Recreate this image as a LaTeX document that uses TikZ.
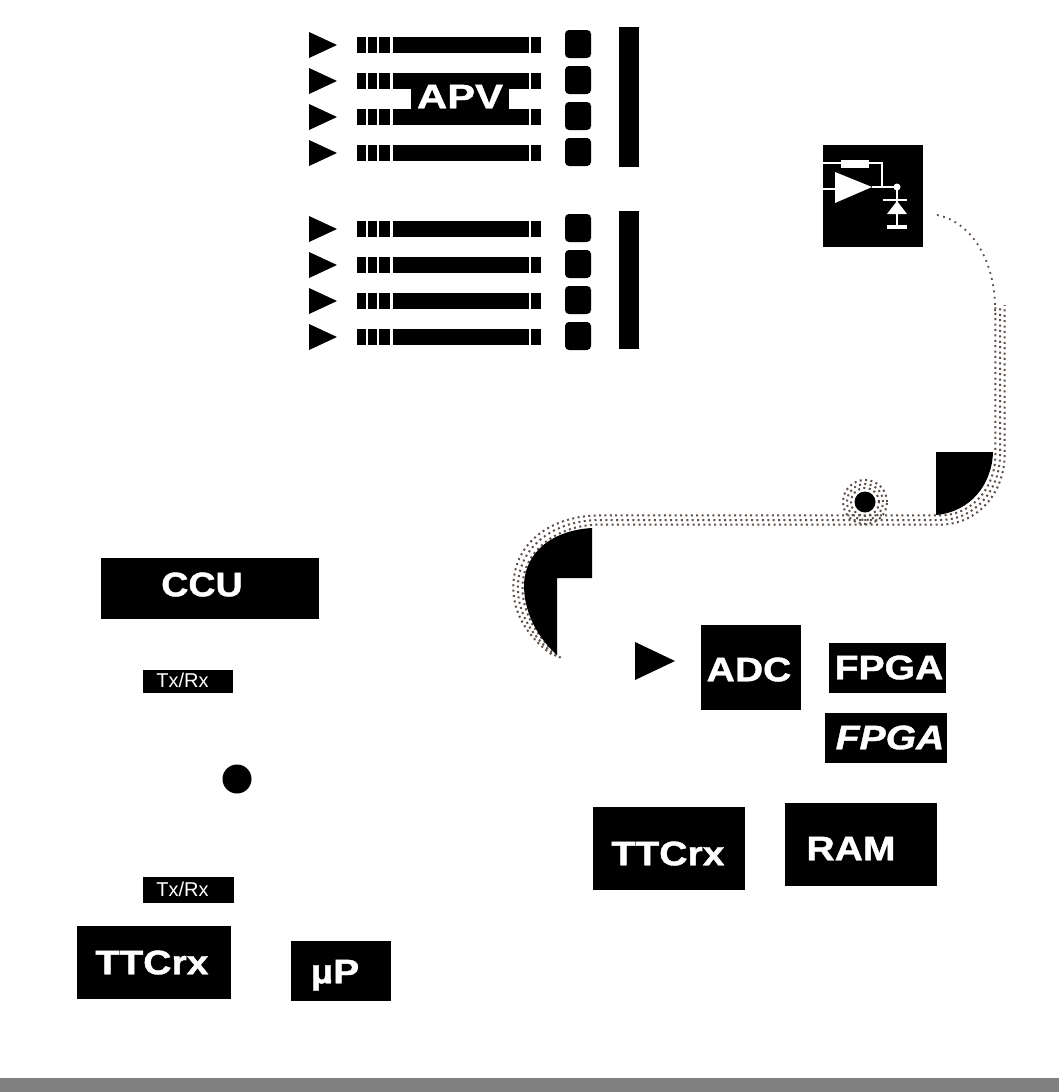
\documentclass[tikz,border=0pt]{standalone}
\usepackage{fontspec}
\setmainfont{Liberation Sans}[BoldFeatures={FakeBold=1.2},BoldItalicFeatures={FakeBold=1.2}]
\usetikzlibrary{positioning,shapes.geometric,calc}
\definecolor{cnegro}{HTML}{000000}
\definecolor{cfibra}{HTML}{5E4E4A}
\definecolor{cbarra}{HTML}{808080}
\tikzset{
  caja/.style={draw=none,fill=cnegro,inner sep=0pt,outer sep=0pt},
  etq/.style={text=white,inner sep=0pt,text height=24.5pt,text depth=0pt,
              font=\fontsize{34}{34}\selectfont\bfseries,xscale=1.15,transform shape},
  etqi/.style={etq,font=\fontsize{34}{34}\selectfont\bfseries\itshape},
  etqf/.style={text=white,inner sep=0pt,text height=14.5pt,text depth=0pt,
               font=\fontsize{20}{20}\selectfont},
  bola/.style={circle,fill=cnegro,inner sep=0pt,outer sep=0pt},
  fibra/.style={draw=cfibra,line width=2pt,dash pattern=on 2pt off 3.4pt},
  hilo/.style={draw=white,line width=1.6pt},
}
\begin{document}
\begin{tikzpicture}[x=1pt,y=-1pt]
\useasboundingbox (0,0) rectangle (1059,1092);

% ---------------- modulos APV ----------------
\foreach \ym in {0,184}{
  \foreach \yf [count=\n] in {45,81,117,153}{
    \fill[cnegro] (309,\yf+\ym-13) -- (337,\yf+\ym) -- (309,\yf+\ym+13) -- cycle;
    \foreach \xa/\xb in {357/366,368/377,379/390,393/529,531/541}
      \fill[cnegro] (\xa,\yf+\ym-8) rectangle (\xb,\yf+\ym+8);
    \fill[cnegro,rounded corners=4pt] (565,\yf+\ym-15) rectangle (591,\yf+\ym+13);
  }
}
\node[caja,minimum width=20pt,minimum height=140pt] (hib1) at (629,97) {};
\node[caja,minimum width=20pt,minimum height=138pt] (hib2) at (629,280) {};
\node[caja,minimum width=98pt,minimum height=52pt] (apv) at (460,99) {};
\node[etq,xscale=1.07] (apvt) at (460,96) {APV};

% ---------------- emisor laser ----------------
\node[caja,minimum width=100pt,minimum height=102pt] (laser) at (873,196) {};
\fill[white] (835,172) -- (872,187) -- (835,203) -- cycle;
\draw[hilo] (823,163) -- (882,163) -- (882,187);
\draw[hilo] (823,189) -- (835,189);
\fill[white] (841,160) rectangle (869,168);
\draw[hilo] (872,187) -- (897,187) -- (897,227);
\fill[white] (897,187) circle[radius=3.5pt];
\draw[hilo,line width=2.5pt] (883,200) -- (907,200);
\fill[white] (897,201) -- (907,214) -- (887,214) -- cycle;
\draw[hilo,line width=3.5pt] (887,227) -- (907,227);

% ---------------- fibra optica ----------------
\draw[fibra,line width=1.8pt,dash pattern=on 1.8pt off 4.5pt] (937,215) .. controls (972,222) and (996,262) .. (995,312);
\foreach \d in {-4.6,0,4.6}{
  \draw[fibra] ({556+\d},{656+\d*.4}) .. controls ({526+\d},{632}) and ({517+\d},{606}) .. ({518+\d},{585})
    .. controls ({519+\d},{546+\d}) and ({555+\d*.5},{520+\d}) .. (600,{520+\d}) -- (940,{520+\d})
    .. controls ({975+\d*.7},{520+\d}) and ({1000+\d},{490+\d*.4}) .. ({1000+\d},455) -- ({1000+\d},305);
}
\foreach \r in {14,18,22}
  \draw[fibra] (865,502) circle[radius=\r pt];
\node[bola,minimum size=21pt] (acople) at (865,502) {};
\fill[cnegro] (592,528) -- (592,578) -- (557,578) -- (557,655)
  .. controls (535,635) and (524,610) .. (524,585)
  .. controls (525,550) and (555,530) .. (592,528) -- cycle;
\fill[cnegro] (936,452) -- (993,452) .. controls (992,485) and (970,512) .. (936,515) -- cycle;

% ---------------- control ----------------
\node[caja,minimum width=218pt,minimum height=61pt] (ccu) at (210,588) {};
\node[etq,xscale=.96] (ccut) at (202,584) {CCU};
\node[caja,minimum width=90pt,minimum height=23pt] (txa) at (188,681) {};
\node[etqf] (txat) at (182.5,680) {Tx/Rx};
\node[bola,minimum size=29pt] (nodo) at (237,779) {};
\node[caja,minimum width=91pt,minimum height=26pt] (txb) at (188.5,890) {};
\node[etqf] (txbt) at (182.5,889) {Tx/Rx};
\node[caja,minimum width=154pt,minimum height=73pt] (ttca) at (154,962) {};
\node[etq] (ttcat) at (152,962) {TTCrx};
\node[caja,minimum width=100pt,minimum height=60pt] (up) at (341,971) {};
\node[etq] (upt) at (335,971) {µP};

% ---------------- lectura ----------------
\fill[cnegro] (635,642) -- (675,661) -- (635,680) -- cycle;
\node[caja,minimum width=100pt,minimum height=85pt] (adc) at (751,667.5) {};
\node[etq] (adct) at (749,669) {ADC};
\node[caja,minimum width=117pt,minimum height=50pt] (fpgaa) at (887.5,668) {};
\node[etq] (fpgaat) at (889,667) {FPGA};
\node[caja,minimum width=122pt,minimum height=50pt] (fpgab) at (886,738) {};
\node[etqi] (fpgabt) at (890,737) {FPGA};
\node[caja,minimum width=152pt,minimum height=83pt] (ttcb) at (669,848.5) {};
\node[etq] (ttcbt) at (668,853) {TTCrx};
\node[caja,minimum width=152pt,minimum height=83pt] (ram) at (861,844.5) {};
\node[etq] (ramt) at (851,848) {RAM};

% ---------------- barra inferior ----------------
\fill[cbarra] (0,1078) rectangle (1059,1092);

\end{tikzpicture}
\end{document}
